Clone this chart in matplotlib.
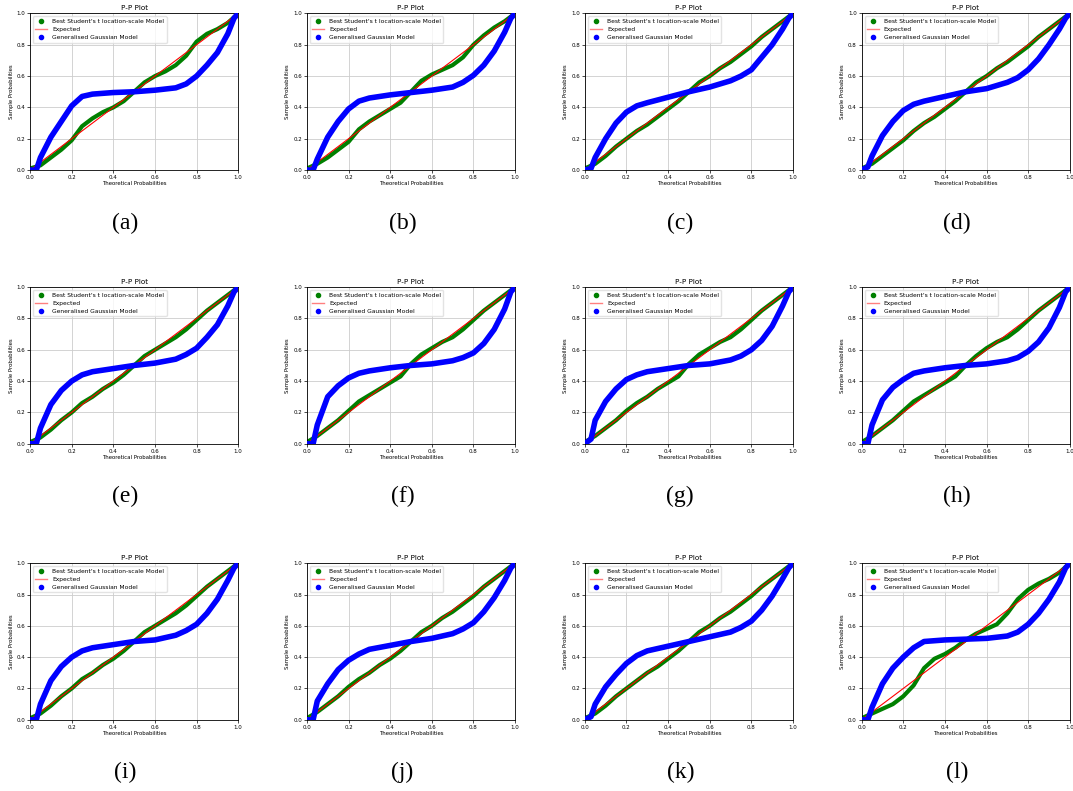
#P-P plots for 12 cases: Student's t location-scale vs Generalised Gaussian
import matplotlib.pyplot as plt
from matplotlib.lines import Line2D

panel_labels = ['(a)', '(b)', '(c)', '(d)', '(e)', '(f)',
                '(g)', '(h)', '(i)', '(j)', '(k)', '(l)']

#----------theoretical probabilities (x) /------------------------------------
x_t = [0.0, 0.05, 0.1, 0.15, 0.2, 0.25, 0.3, 0.35, 0.4, 0.45, 0.5,
       0.55, 0.6, 0.65, 0.7, 0.75, 0.8, 0.85, 0.9, 0.95, 1.0]
x_gg = [0.0, 0.03, 0.05, 0.1, 0.15, 0.2, 0.25, 0.3, 0.4, 0.5,
        0.6, 0.7, 0.75, 0.8, 0.85, 0.9, 0.95, 0.98, 1.0]

#----------sample probabilities, Best Student's t location-scale Model-------
t_a = [0.01, 0.03, 0.08, 0.13, 0.19, 0.28, 0.33, 0.37, 0.40, 0.44, 0.50,
       0.56, 0.60, 0.63, 0.67, 0.73, 0.82, 0.87, 0.90, 0.94, 1.0]
t_b = [0.01, 0.04, 0.08, 0.13, 0.18, 0.26, 0.31, 0.35, 0.39, 0.43, 0.50,
       0.57, 0.61, 0.64, 0.67, 0.72, 0.80, 0.86, 0.91, 0.95, 1.0]
t_c = [0.01, 0.04, 0.09, 0.15, 0.20, 0.25, 0.29, 0.34, 0.39, 0.44, 0.50,
       0.56, 0.60, 0.65, 0.69, 0.74, 0.79, 0.85, 0.90, 0.95, 1.0]
t_d = [0.01, 0.04, 0.09, 0.14, 0.19, 0.25, 0.30, 0.34, 0.39, 0.44, 0.50,
       0.56, 0.60, 0.65, 0.69, 0.74, 0.79, 0.85, 0.90, 0.95, 1.0]
t_e = [0.01, 0.04, 0.09, 0.15, 0.20, 0.26, 0.30, 0.35, 0.39, 0.44, 0.50,
       0.56, 0.60, 0.64, 0.68, 0.73, 0.79, 0.85, 0.90, 0.95, 1.0]
t_f = [0.01, 0.05, 0.10, 0.15, 0.21, 0.27, 0.31, 0.35, 0.39, 0.43, 0.51,
       0.57, 0.61, 0.65, 0.68, 0.73, 0.79, 0.85, 0.90, 0.95, 1.0]
t_g = [0.01, 0.05, 0.10, 0.15, 0.21, 0.26, 0.30, 0.35, 0.39, 0.43, 0.51,
       0.57, 0.61, 0.65, 0.68, 0.73, 0.79, 0.85, 0.90, 0.95, 1.0]
t_h = [0.01, 0.05, 0.10, 0.15, 0.21, 0.27, 0.31, 0.35, 0.39, 0.43, 0.50,
       0.56, 0.61, 0.65, 0.68, 0.73, 0.79, 0.85, 0.90, 0.95, 1.0]
t_i = [0.01, 0.04, 0.09, 0.15, 0.20, 0.26, 0.30, 0.35, 0.39, 0.44, 0.50,
       0.56, 0.60, 0.64, 0.68, 0.73, 0.79, 0.85, 0.90, 0.95, 1.0]
t_j = [0.01, 0.05, 0.10, 0.15, 0.21, 0.26, 0.30, 0.35, 0.39, 0.44, 0.50,
       0.56, 0.60, 0.65, 0.69, 0.74, 0.79, 0.85, 0.90, 0.95, 1.0]
t_k = [0.01, 0.04, 0.09, 0.15, 0.20, 0.25, 0.30, 0.34, 0.39, 0.44, 0.50,
       0.56, 0.60, 0.65, 0.69, 0.74, 0.79, 0.85, 0.90, 0.95, 1.0]
t_l = [0.01, 0.04, 0.07, 0.10, 0.15, 0.22, 0.33, 0.39, 0.42, 0.46, 0.51,
       0.55, 0.58, 0.61, 0.68, 0.77, 0.83, 0.87, 0.90, 0.94, 1.0]

#----------sample probabilities, Generalised Gaussian Model------------------
gg_a = [0.0, 0.0, 0.08, 0.21, 0.31, 0.41, 0.47, 0.485, 0.495, 0.50,
        0.51, 0.525, 0.55, 0.60, 0.67, 0.75, 0.87, 0.97, 1.0]
gg_b = [0.0, 0.0, 0.07, 0.21, 0.31, 0.39, 0.44, 0.46, 0.48, 0.495,
        0.51, 0.53, 0.56, 0.605, 0.67, 0.76, 0.88, 0.97, 1.0]
gg_c = [0.0, 0.01, 0.08, 0.20, 0.30, 0.37, 0.41, 0.43, 0.465, 0.50,
        0.53, 0.57, 0.60, 0.64, 0.72, 0.80, 0.90, 0.97, 1.0]
gg_d = [0.0, 0.02, 0.09, 0.22, 0.31, 0.38, 0.42, 0.44, 0.47, 0.50,
        0.52, 0.56, 0.59, 0.64, 0.71, 0.80, 0.90, 0.97, 1.0]
gg_e = [0.0, 0.0, 0.10, 0.25, 0.34, 0.40, 0.44, 0.46, 0.48, 0.50,
        0.515, 0.54, 0.57, 0.61, 0.68, 0.76, 0.88, 0.97, 1.0]
gg_f = [0.0, 0.0, 0.12, 0.30, 0.37, 0.42, 0.45, 0.465, 0.485, 0.50,
        0.51, 0.53, 0.55, 0.58, 0.64, 0.73, 0.86, 0.97, 1.0]
gg_g = [0.0, 0.03, 0.15, 0.27, 0.35, 0.41, 0.44, 0.46, 0.48, 0.50,
        0.51, 0.535, 0.56, 0.60, 0.66, 0.75, 0.88, 0.97, 1.0]
gg_h = [0.0, 0.0, 0.12, 0.28, 0.36, 0.41, 0.45, 0.465, 0.485, 0.50,
        0.51, 0.53, 0.55, 0.59, 0.65, 0.74, 0.87, 0.97, 1.0]
gg_i = [0.0, 0.0, 0.10, 0.25, 0.34, 0.40, 0.44, 0.46, 0.48, 0.50,
        0.51, 0.54, 0.57, 0.61, 0.68, 0.77, 0.89, 0.97, 1.0]
gg_j = [0.0, 0.0, 0.12, 0.23, 0.32, 0.38, 0.42, 0.45, 0.475, 0.50,
        0.52, 0.55, 0.58, 0.62, 0.69, 0.78, 0.89, 0.97, 1.0]
gg_k = [0.0, 0.02, 0.10, 0.21, 0.29, 0.36, 0.41, 0.44, 0.47, 0.50,
        0.53, 0.56, 0.59, 0.63, 0.70, 0.79, 0.90, 0.97, 1.0]
gg_l = [0.0, 0.0, 0.08, 0.23, 0.33, 0.40, 0.46, 0.50, 0.51, 0.515,
        0.52, 0.535, 0.56, 0.61, 0.68, 0.77, 0.88, 0.97, 1.0]

t_all = [t_a, t_b, t_c, t_d, t_e, t_f, t_g, t_h, t_i, t_j, t_k, t_l]
gg_all = [gg_a, gg_b, gg_c, gg_d, gg_e, gg_f, gg_g, gg_h, gg_i, gg_j, gg_k, gg_l]

#------plotting----------
fig = plt.figure(figsize=(10.73, 7.91), dpi=100)

lefts = [0.028, 0.286, 0.545, 0.803]
bottoms = [0.785, 0.439, 0.090]
w, h = 0.194, 0.198

handles = [
    Line2D([], [], marker='o', ls='', color='green', markersize=3),
    Line2D([], [], color='red', alpha=0.5, lw=1),
    Line2D([], [], marker='o', ls='', color='blue', markersize=3),
]
names = ["Best Student's t location-scale Model", 'Expected', 'Generalised Gaussian Model']

for k in range(12):
    r, c = divmod(k, 4)
    ax = fig.add_axes([lefts[c], bottoms[r], w, h])
    ax.plot(x_t, t_all[k], color='green', lw=3.0,
            solid_joinstyle='round', solid_capstyle='round', zorder=2)
    ax.plot([0, 1], [0, 1], color='red', lw=0.8, zorder=3)
    ax.plot(x_gg, gg_all[k], color='blue', lw=4.0,
            solid_joinstyle='round', solid_capstyle='round', zorder=4)
    ax.set_xlim(0, 1)
    ax.set_ylim(0, 1)
    ax.set_title('P-P Plot', fontsize=5.2, pad=2.5)
    ax.set_xlabel('Theoretical Probabilities', fontsize=3.9, labelpad=1)
    ax.set_ylabel('Sample Probabilities', fontsize=3.9, labelpad=2)
    ax.tick_params(labelsize=4, length=2, width=0.5, pad=1.5)
    ax.grid(True, lw=0.6, color='#cccccc')
    ax.set_axisbelow(True)
    for s in ax.spines.values():
        s.set_linewidth(0.6)
    ax.legend(handles, names, loc='upper left', fontsize=4.3, frameon=True,
              borderpad=0.4, labelspacing=0.5, handlelength=2.0,
              edgecolor='#dddddd', fancybox=True)
    fig.text(lefts[c] + w / 2 - 0.008, bottoms[r] - 0.067, panel_labels[k],
             ha='center', va='center', fontsize=17, family='Liberation Serif')

plt.savefig('out.png', dpi=100)
